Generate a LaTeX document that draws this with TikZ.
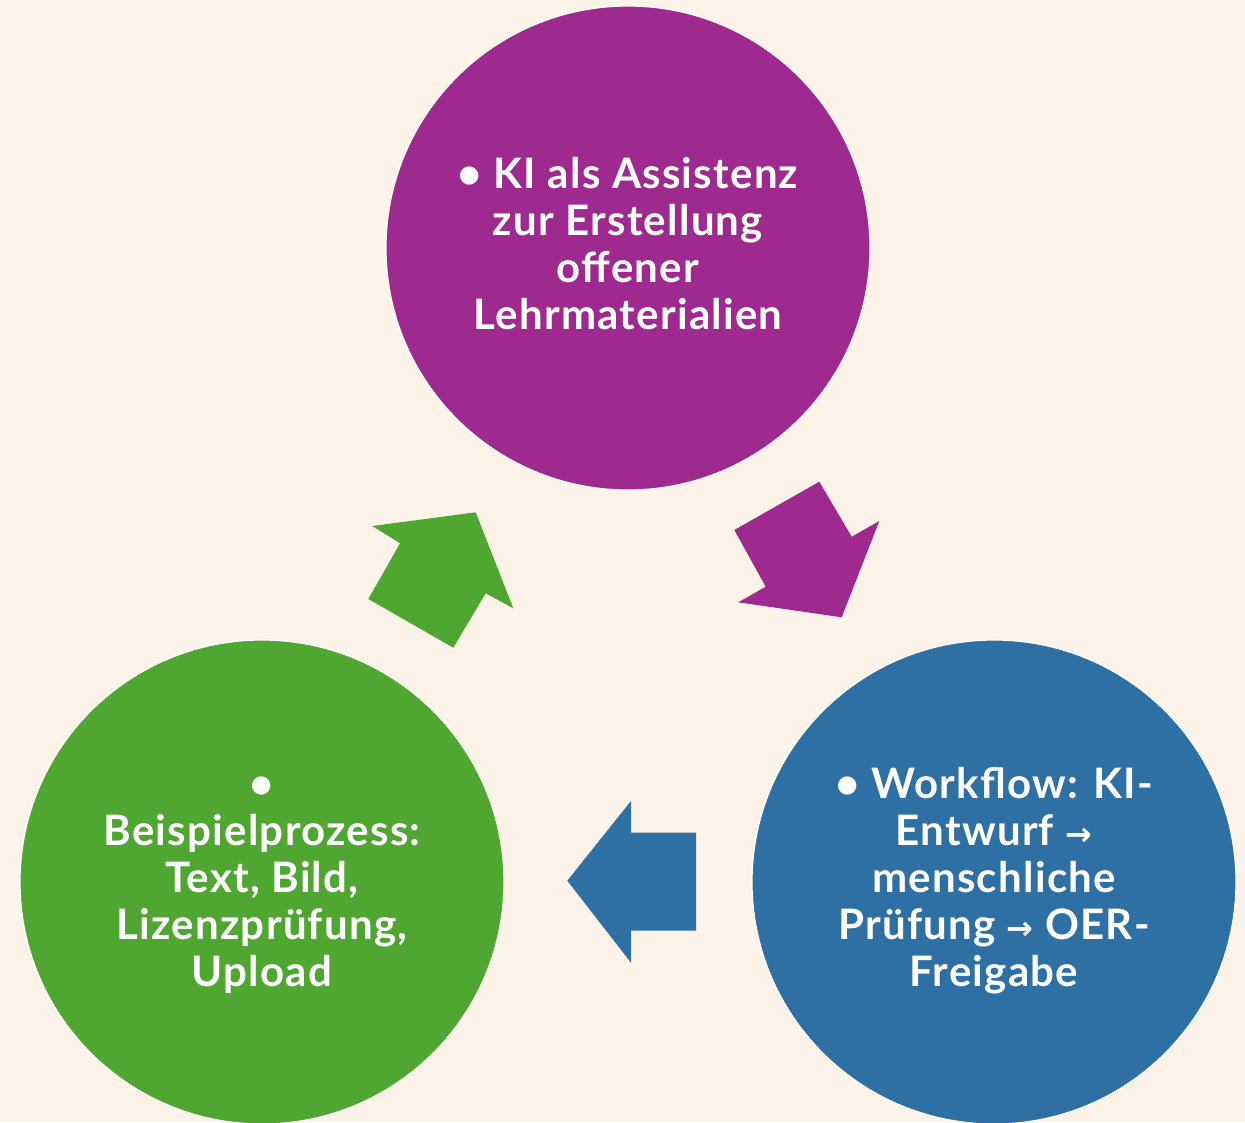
\documentclass[tikz,border=0pt]{standalone}
\usepackage{fontspec}
\setmainfont{Lato}[LetterSpace=3]
\newfontfamily\symfont{DejaVu Sans}
\definecolor{bgcream}{HTML}{FDF3E9}
\definecolor{kipurple}{HTML}{9E2A90}
\definecolor{wfblue}{HTML}{2E70A4}
\definecolor{bpgreen}{HTML}{4FA731}
\newcommand{\pfeil}{{\symfont\fontsize{32}{47}\selectfont\bfseries →}}

\begin{document}
\begin{tikzpicture}[x=1pt,y=-1pt]
\tikzstyle{every node}=[circle, minimum size=484pt, inner sep=0pt, draw=white, line width=1.2pt, text=white, align=center, text depth=9pt, font=\fontsize{42}{47}\selectfont\bfseries]
\tikzstyle{vierzeilen}=[text height=171pt]
\tikzstyle{fuenfzeilen}=[text height=218pt]
\fill[bgcream] (0,0) rectangle (1245,1122);
\useasboundingbox (0,0) rectangle (1245,1122);
\draw (628,248) node (ki) [vierzeilen, fill=kipurple] {• KI als Assistenz\\zur Erstellung\\offener\\Lehrmaterialien};
\draw (994,882) node (wf) [fuenfzeilen, fill=wfblue] {• Workflow: KI-\\Entwurf \pfeil\\menschliche\\Prüfung \pfeil{} OER-\\Freigabe};
\draw (262,882) node (bp) [fuenfzeilen, fill=bpgreen] {•\\Beispielprozess:\\Text, Bild,\\Lizenzprüfung,\\Upload};
\fill[kipurple] (819.3,481.7) -- (851.7,536.7) -- (879.3,521) -- (841.7,617.3) -- (738.3,602.3) -- (765.7,586.7) -- (734.3,530) -- cycle;
\fill[wfblue] (567.3,880.7) -- (631,801) -- (631,832.7) -- (696,832.7) -- (696,930.7) -- (631,930.7) -- (631,962.7) -- cycle;
\fill[bpgreen] (372.3,526) -- (475.7,512.3) -- (513.3,608.3) -- (485.7,593.3) -- (453.3,647.7) -- (368.3,599) -- (400,543.3) -- cycle;
\end{tikzpicture}
\end{document}
